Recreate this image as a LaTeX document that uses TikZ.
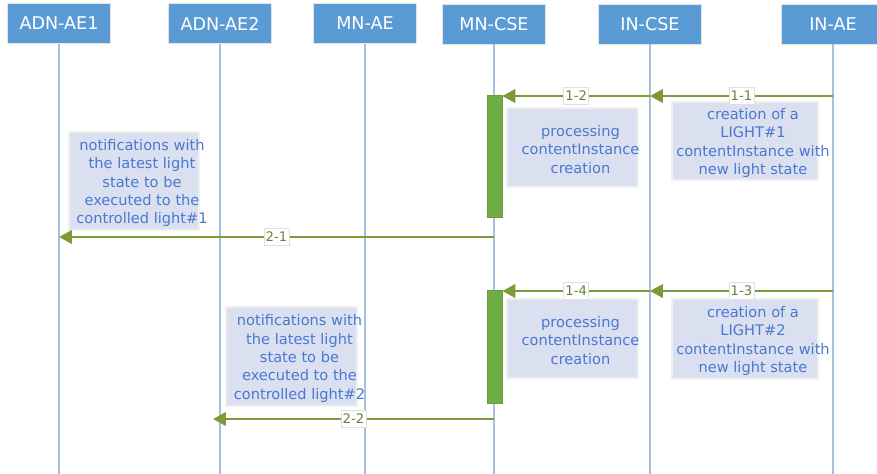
\documentclass[tikz,border=0pt]{standalone}
\usepackage{fontspec}
\setmainfont{DejaVu Sans}
\usetikzlibrary{arrows.meta}
\definecolor{hdrblue}{HTML}{5B9BD5}
\definecolor{lifeblue}{HTML}{A7BFDA}
\definecolor{msgolive}{HTML}{7E9A37}
\definecolor{actgreen}{HTML}{70AD47}
\definecolor{notefill}{HTML}{DAE0F0}
\definecolor{notetext}{HTML}{4A78CF}
\definecolor{lbltext}{HTML}{6F7F3A}
\begin{document}
\begin{tikzpicture}[x=0.02cm, y=-0.02cm,
    hdr/.style={draw=gray!20, fill=hdrblue, text=white, font=\fontsize{10}{12}\selectfont,
      minimum width=2.06cm, minimum height=0.8cm, inner sep=0pt},
    life/.style={draw=lifeblue, line width=1.1pt},
    msg/.style={draw=msgolive, line width=1.5pt, -{Triangle[length=0.26cm, width=0.27cm]}},
    lbl/.style={fill=white, draw=gray!25, line width=0.4pt, text=lbltext,
      font=\fontsize{7.5}{8}\selectfont, inner xsep=1pt, inner ysep=2pt},
    actbar/.style={fill=actgreen, draw=actgreen!90!black, minimum width=0.3cm, inner sep=0pt},
    note/.style={fill=notefill, draw=gray!12, line width=0.8pt, inner sep=0pt},
    notetxt/.style={text=notetext, font=\fontsize{8.3}{10.5}\selectfont, align=center,
      inner sep=0pt, xshift=0.16cm, yshift=-0.04cm}]
  \useasboundingbox (0,0) rectangle (877,474);

  \node[hdr] (adnae1) at (59,23.5) {ADN-AE1};
  \node[hdr] (adnae2) at (220,23.5) {ADN-AE2};
  \node[hdr] (mnae) at (365,23.5) {MN-AE};
  \node[hdr] (mncse) at (494,24) {MN-CSE};
  \node[hdr] (incse) at (650,24) {IN-CSE};
  \node[hdr] (inae) at (833,24) {IN-AE};

  \coordinate (adnae1b) at (59,474);
  \coordinate (adnae2b) at (220,474);
  \coordinate (mnaeb) at (365,474);
  \coordinate (mncseb) at (494,474);
  \coordinate (incseb) at (650,474);
  \coordinate (inaeb) at (833,474);

  \draw[life] (adnae1.south)--(adnae1b);
  \draw[life] (adnae2.south)--(adnae2b);
  \draw[life] (mnae.south)--(mnaeb);
  \draw[life] (mncse.south)--(mncseb);
  \draw[life] (incse.south)--(incseb);
  \draw[life] (inae.south)--(inaeb);

  \node[actbar, minimum height=2.44cm] (act1) at (494.5,156) {};
  \node[actbar, minimum height=2.26cm] (act2) at (494.5,346.5) {};

  \node[note, minimum width=2.62cm, minimum height=1.58cm,
    label={[notetxt]center:processing\\contentInstance\\creation}] (proc1) at (572.5,147.5) {};
  \node[note, minimum width=2.92cm, minimum height=1.56cm,
    label={[notetxt]center:creation of a\\LIGHT\#1\\contentInstance with\\new light state}] (crea1) at (745,141) {};
  \node[note, minimum width=2.6cm, minimum height=1.96cm,
    label={[notetxt]center:notifications with\\the latest light\\state to be\\executed to the\\controlled light\#1}] (notif1) at (134,181) {};
  \node[note, minimum width=2.62cm, minimum height=1.58cm,
    label={[notetxt]center:processing\\contentInstance\\creation}] (proc2) at (572.5,338.5) {};
  \node[note, minimum width=2.92cm, minimum height=1.6cm,
    label={[notetxt]center:creation of a\\LIGHT\#2\\contentInstance with\\new light state}] (crea2) at (745,339) {};
  \node[note, minimum width=2.62cm, minimum height=1.98cm,
    label={[notetxt]center:notifications with\\the latest light\\state to be\\executed to the\\controlled light\#2}] (notif2) at (291.5,356.5) {};

  \coordinate (m11) at (833,96);
  \coordinate (m11e) at (650,96);
  \coordinate (m12e) at (act1.east |- m11e);
  \coordinate (m21) at (494,237);
  \coordinate (m21e) at (59,237);
  \coordinate (m13) at (833,291);
  \coordinate (m13e) at (650,291);
  \coordinate (m14e) at (act2.east |- m13e);
  \coordinate (m22) at (494,419);
  \coordinate (m22e) at (213,419);

  \draw[msg] (m11)--(m11e) node[pos=0.5,lbl] {1-1};
  \draw[msg] (m11e)--(m12e) node[pos=0.5,lbl] {1-2};
  \draw[msg] (m21)--(m21e) node[pos=0.5,lbl] {2-1};
  \draw[msg] (m13)--(m13e) node[pos=0.5,lbl] {1-3};
  \draw[msg] (m13e)--(m14e) node[pos=0.5,lbl] {1-4};
  \draw[msg] (m22)--(m22e) node[pos=0.5,lbl] {2-2};
\end{tikzpicture}
\end{document}
